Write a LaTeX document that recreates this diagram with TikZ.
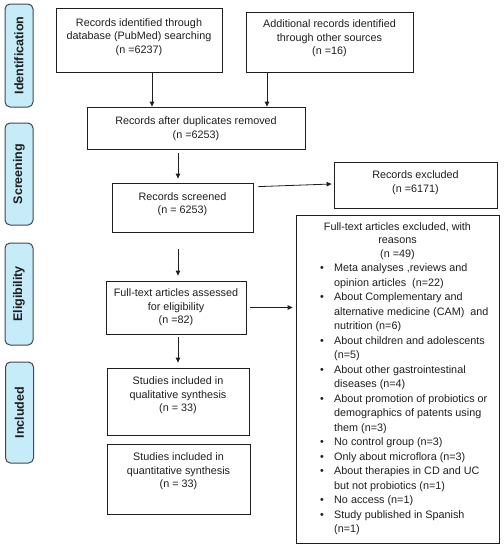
\documentclass[tikz,border=0pt]{standalone}
\usepackage{fontspec}
\setmainfont{Liberation Sans}
\usetikzlibrary{arrows.meta}
\definecolor{sidefill}{RGB}{198,236,250}
\definecolor{sidedraw}{RGB}{64,72,80}
\definecolor{ink}{RGB}{30,30,30}
\newcommand{\pbul}{\makebox[14pt][l]{•}}
\newcommand{\pind}{\hspace*{14pt}}
\begin{document}
\begin{tikzpicture}[x=1pt,y=-1pt,
  box/.style={draw=ink, line width=0.8pt, inner sep=0pt},
  txt/.style={text=ink, inner sep=0pt, align=center, font=\fontsize{10.8}{13.6}\selectfont},
  side/.style={draw=sidedraw, fill=sidefill, line width=1pt, rounded corners=5pt, rotate=90,
     inner sep=0pt, minimum height=28pt, font=\fontsize{12.5}{14}\selectfont\bfseries, text=ink},
  arr/.style={draw=ink, line width=0.8pt, -{Triangle[length=5pt,width=4.5pt]}}]
\useasboundingbox (0,0) rectangle (504,550);

% side labels
\node[side, minimum width=103pt] (lid) at (19,55.5) {Identification};
\node[side, minimum width=102pt] (lsc) at (19,174) {Screening};
\node[side, minimum width=102pt] (lel) at (19,294) {Eligibility};
\node[side, minimum width=101pt] (lin) at (19.5,412.5) {Included};

% boxes
\node[box, minimum width=166pt, minimum height=64pt] (b1) at (139,40) {};
\node[box, minimum width=167pt, minimum height=60pt] (b2) at (329.5,42) {};
\node[box, minimum width=218pt, minimum height=42pt] (b3) at (196,128) {};
\node[box, minimum width=141pt, minimum height=49pt] (b4) at (182.5,207.5) {};
\node[box, minimum width=163pt, minimum height=46pt] (ex1) at (415.5,185) {};
\node[box, minimum width=140pt, minimum height=53pt] (b5) at (176,307.5) {};
\node[box, minimum width=203pt, minimum height=328pt] (ex2) at (397.5,379) {};
\node[box, minimum width=142pt, minimum height=67pt] (b6) at (178,401.5) {};
\node[box, minimum width=143pt, minimum height=70pt] (b7) at (178.5,479) {};

% texts
\node[txt] (t1) at (139,37) {Records identified through\\database (PubMed) searching\\(n =6237)};
\node[txt] (t2) at (329.5,38.5) {Additional records identified\\through other sources\\(n =16)};
\node[txt] (t3) at (196,128.5) {Records after duplicates removed\\(n =6253)};
\node[txt] (t4) at (182.5,204) {Records screened\\(n = 6253)};
\node[txt] (tex1) at (415.5,182.5) {Records excluded\\(n =6171)};
\node[txt] (t5) at (176,307.5) {Full-text articles assessed\\for eligibility\\(n =82)};
\node[txt] (t6) at (178,395.5) {Studies included in\\qualitative synthesis\\(n = 33)};
\node[txt] (t7) at (178.5,471.5) {Studies included in\\quantitative synthesis\\(n = 33)};
\node[txt] (tex2) at (397.5,241) {Full-text articles excluded, with\\reasons\\(n =49)};
\node[txt, anchor=west, align=left, font=\fontsize{10.8}{14.5}\selectfont] (lst) at (320,399.5) {%
\pbul Meta analyses ,reviews and\\
\pind opinion articles\ \ (n=22)\\
\pbul About Complementary and\\
\pind alternative medicine (CAM)\ \ and\\
\pind nutrition (n=6)\\
\pbul About children and adolescents\\
\pind (n=5)\\
\pbul About other gastrointestinal\\
\pind diseases (n=4)\\
\pbul About promotion of probiotics or\\
\pind demographics of patents using\\
\pind them (n=3)\\
\pbul No control group (n=3)\\
\pbul Only about microflora (n=3)\\
\pbul About therapies in CD and UC\\
\pind but not probiotics (n=1)\\
\pbul No access (n=1)\\
\pbul Study published in Spanish\\
\pind (n=1)};

% connectors
\draw[arr] ([xshift=13pt]b1.south) -- ([xshift=-44pt]b3.north);
\draw[arr] ([xshift=-62.5pt]b2.south) -- ([xshift=71pt]b3.north);
\draw[arr] ([xshift=-18pt,yshift=-4pt]b3.south) -- ([xshift=-4.5pt,yshift=4pt]b4.north);
\draw[arr] ([xshift=5pt,yshift=-4pt]b4.north east) -- ([xshift=-2pt,yshift=1pt]ex1.west);
\draw[arr] ([xshift=-4.5pt,yshift=-17pt]b4.south) -- ([xshift=2pt,yshift=5pt]b5.north);
\draw[arr, shorten <=4pt, shorten >=3pt] (b5.east) -- (b5.east -| ex2.west);
\draw[arr] ([xshift=2pt,yshift=-3pt]b5.south) -- ([yshift=5pt]b6.north);
\end{tikzpicture}
\end{document}
